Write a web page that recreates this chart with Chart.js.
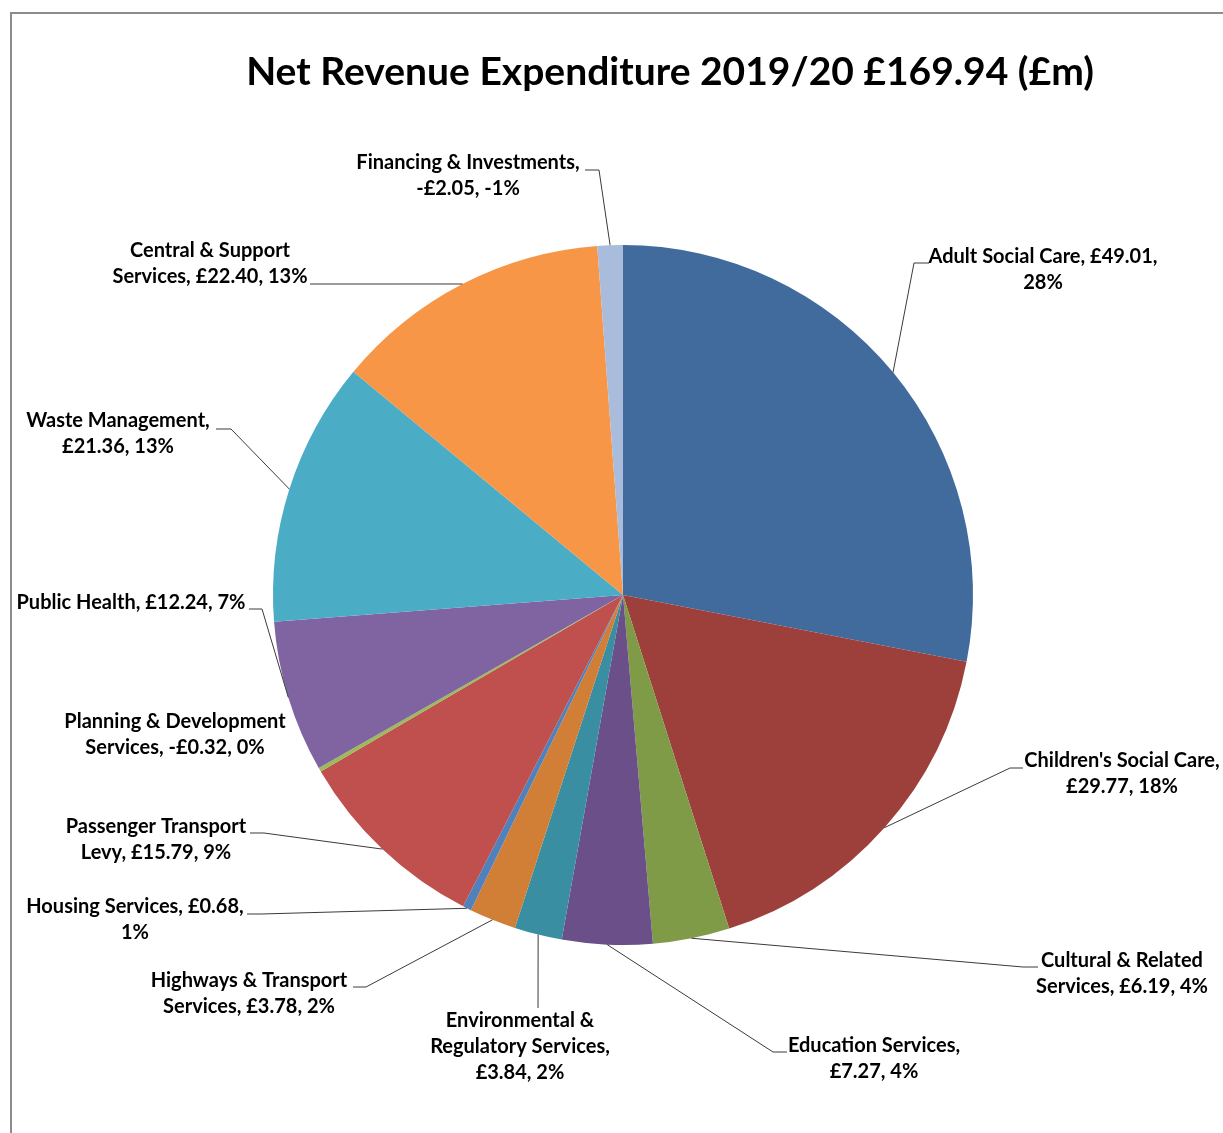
<!DOCTYPE html>
<html>
<head>
<meta charset="utf-8">
<title>Net Revenue Expenditure 2019/20</title>
<script src="https://cdn.jsdelivr.net/npm/chart.js@4.4.1/dist/chart.umd.min.js"></script>
<style>
  html, body { margin: 0; padding: 0; background: #fff; }
  #wrap { position: relative; width: 1223px; height: 1133px; }
  #chart { position: absolute; left: 0; top: 0; }
</style>
</head>
<body>
<div id="wrap"><canvas id="chart" width="1223" height="1133"></canvas></div>
<script>
const categories = [
  'Adult Social Care', "Children's Social Care", 'Cultural & Related Services',
  'Education Services', 'Environmental & Regulatory Services', 'Highways & Transport Services',
  'Housing Services', 'Passenger Transport Levy', 'Planning & Development Services',
  'Public Health', 'Waste Management', 'Central & Support Services', 'Financing & Investments'
];
const values = [49.01, 29.77, 6.19, 7.27, 3.84, 3.78, 0.68, 15.79, -0.32, 12.24, 21.36, 22.40, -2.05];
const percents = [28, 18, 4, 4, 2, 2, 1, 9, 0, 7, 13, 13, -1];
const colors = [
  '#416A9D', '#9D403C', '#7F9B48', '#6A4F88', '#3A8EA2', '#D17F37',
  '#4F81BD', '#C0504D', '#9BBB59', '#8064A2', '#4BACC6', '#F79646', '#A9BCDB'
];
const title = 'Net Revenue Expenditure 2019/20 £169.94 (£m)';

// how many words go on each line of a label
const lineWords = [[4,1],[3,2],[3,3],[2,2],[2,2,2],[3,3],[3,1],[2,3],[3,3],[4],[2,2],[3,3],[3,2]];

// label placement: centre x, first-line y, leader stub (points leading towards slice)
const labelLayout = [
  { x: 1043, y: 257, leader: [[929, 263], [914, 263]] },
  { x: 1122, y: 761, leader: [[1023, 768], [1010, 768]] },
  { x: 1122, y: 961, leader: [[1038, 967], [1023, 967]] },
  { x: 874,  y: 1046, leader: [[787, 1052], [773, 1052]] },
  { x: 520,  y: 1021, leader: [[538, 1008]] },
  { x: 249,  y: 981, leader: [[353, 987], [366, 987]] },
  { x: 135,  y: 907, leader: [[247, 914], [261, 914]] },
  { x: 156,  y: 827, leader: [[250, 833], [264, 833]] },
  { x: 175,  y: 722, leader: null },
  { x: 131,  y: 603, leader: [[249, 609], [262, 609]] },
  { x: 118,  y: 421, leader: [[216, 429], [231, 429]] },
  { x: 210,  y: 251, leader: [[310, 284], [324, 284]] },
  { x: 468,  y: 163, leader: [[585, 170], [599, 170]] }
];

function money(v) {
  return (v < 0 ? '-£' : '£') + Math.abs(v).toFixed(2);
}

function labelLines(i) {
  const words = (categories[i] + ', ' + money(values[i]) + ', ' + percents[i] + '%').split(' ');
  const out = [];
  let k = 0;
  lineWords[i].forEach(n => {
    out.push(words.slice(k, k + n).join(' '));
    k += n;
  });
  return out;
}

const outsideLabels = {
  id: 'outsideLabels',
  beforeDraw(chart) {
    const ctx = chart.ctx;
    ctx.save();
    ctx.strokeStyle = '#8c8c8c';
    ctx.lineWidth = 2;
    ctx.beginPath();
    ctx.moveTo(11, chart.height);
    ctx.lineTo(11, 13);
    ctx.lineTo(chart.width, 13);
    ctx.stroke();
    ctx.restore();
  },
  afterDatasetsDraw(chart) {
    const ctx = chart.ctx;
    const arcs = chart.getDatasetMeta(0).data;
    ctx.save();

    // title
    ctx.fillStyle = '#000';
    ctx.font = 'bold 39px Lato';
    ctx.textAlign = 'center';
    ctx.textBaseline = 'middle';
    ctx.fillText(title, 670, 72);

    arcs.forEach((arc, i) => {
      const lay = labelLayout[i];
      if (lay.leader) {
        const mid = (arc.startAngle + arc.endAngle) / 2;
        const ex = arc.x + Math.cos(mid) * arc.outerRadius;
        const ey = arc.y + Math.sin(mid) * arc.outerRadius;
        ctx.strokeStyle = '#3a3a3a';
        ctx.lineWidth = 1;
        ctx.beginPath();
        ctx.moveTo(ex, ey);
        lay.leader.slice().reverse().forEach(p => ctx.lineTo(p[0], p[1]));
        ctx.stroke();
      }
      ctx.fillStyle = '#000';
      ctx.font = 'bold 20px Lato';
      labelLines(i).forEach((line, j) => {
        ctx.fillText(line, lay.x, lay.y + j * 26);
      });
    });
    ctx.restore();
  }
};

new Chart(document.getElementById('chart'), {
  type: 'pie',
  data: {
    labels: categories,
    datasets: [{
      data: values.map(v => Math.abs(v)),
      backgroundColor: colors,
      borderWidth: 0
    }]
  },
  options: {
    responsive: false,
    animation: false,
    devicePixelRatio: 1,
    layout: { padding: { left: 273, right: 250, top: 245, bottom: 188 } },
    plugins: {
      legend: { display: false },
      tooltip: { enabled: false },
      title: { display: false }
    }
  },
  plugins: [outsideLabels]
});
</script>
</body>
</html>
